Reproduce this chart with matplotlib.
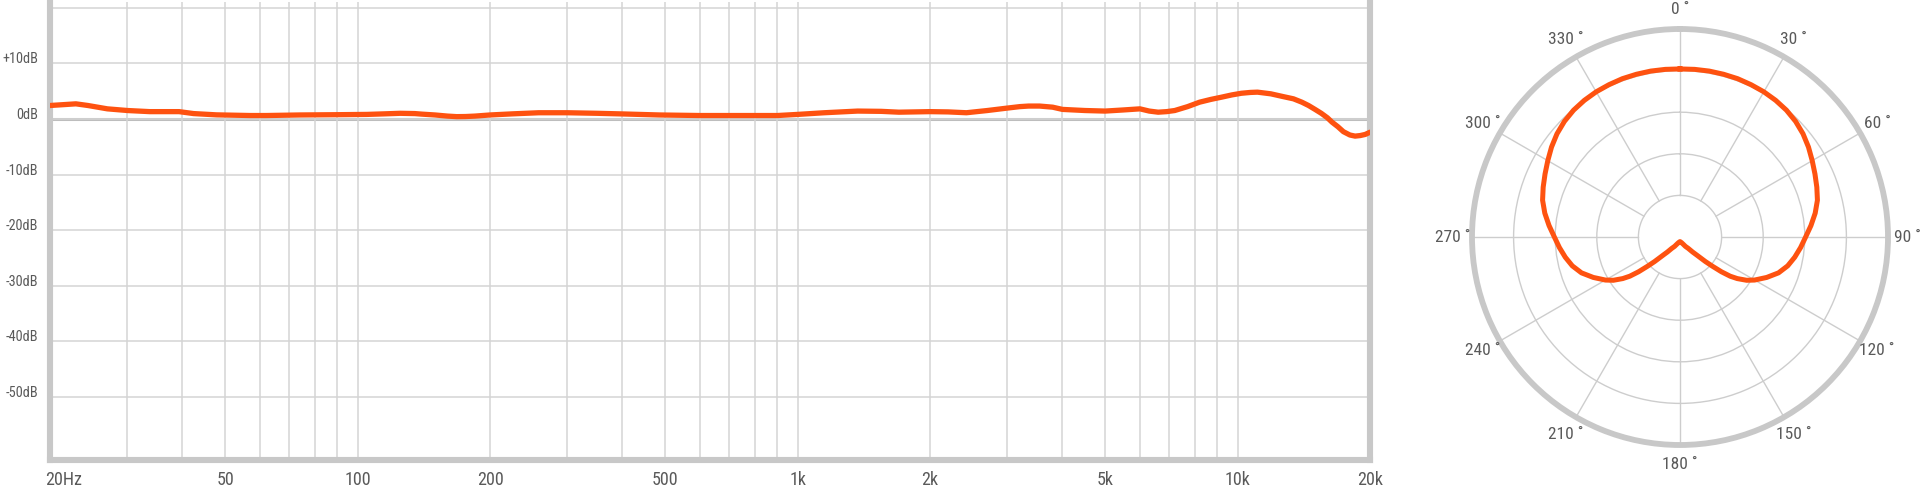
import numpy as np
import matplotlib
matplotlib.use("Agg")
import matplotlib.pyplot as plt
from matplotlib import transforms

# frequency response
freq_hz = [20, 22.9, 24.4, 27, 30, 33.7, 39.3, 42.4, 47.8, 57, 62, 74, 90, 105,
           115, 125, 135, 140, 150, 160, 168, 176, 185, 200, 225, 258, 300, 350,
           394, 485, 600, 700, 900, 1000, 1150, 1370, 1550, 1700, 2000, 2200,
           2420, 2700, 2970, 3200, 3350, 3550, 3800, 4000, 4500, 5000, 5500,
           6000, 6300, 6600, 6900, 7200, 7700, 8200, 8700, 9200, 9700, 10200,
           10700, 11100, 11900, 12700, 13400, 14000, 14500, 15000, 15500,
           16000, 16400, 16900, 17400, 18000, 18500, 19000, 19500, 20000]
level_db = [2.4, 2.7, 2.4, 1.8, 1.5, 1.3, 1.3, 0.95, 0.72, 0.6, 0.6, 0.7, 0.75, 0.8,
            0.9, 1.0, 0.95, 0.85, 0.7, 0.5, 0.4, 0.42, 0.5, 0.7, 0.9, 1.1, 1.1, 1.0,
            0.9, 0.7, 0.6, 0.6, 0.6, 0.8, 1.1, 1.4, 1.35, 1.2, 1.3, 1.25,
            1.1, 1.5, 1.9, 2.2, 2.3, 2.3, 2.1, 1.7, 1.5, 1.4, 1.6,
            1.8, 1.4, 1.2, 1.3, 1.5, 2.2, 3.0, 3.5, 3.9, 4.3, 4.6,
            4.75, 4.8, 4.5, 4.0, 3.6, 3.0, 2.4, 1.7, 1.0,
            0.2, -0.6, -1.4, -2.3, -2.9, -3.1, -3.0, -2.8, -2.4]

xtick_vals = [20, 50, 100, 200, 500, 1000, 2000, 5000, 10000, 20000]
xtick_labels = ["20Hz", "50", "100", "200", "500", "1k", "2k", "5k", "10k", "20k"]
ytick_vals = [10, 0, -10, -20, -30, -40, -50]
ytick_labels = ["+10dB", "0dB", "-10dB", "-20dB", "-30dB", "-40dB", "-50dB"]

# polar pattern (right half, mirrored for the left), radius in ring units
polar_deg = [0, 5, 10, 15, 20, 25, 30, 35, 40, 45, 50, 55, 60, 65, 70, 75, 80, 85,
             90, 95, 100, 105, 110, 115, 120, 123, 126, 128, 130, 132, 134, 137,
             140, 144, 150, 156, 165, 180]
polar_r = [4.04, 4.045, 4.05, 4.05, 4.05, 4.04, 4.03, 4.01, 3.98, 3.93, 3.86, 3.77,
           3.67, 3.58, 3.50, 3.42, 3.30, 3.16, 3.02, 2.91, 2.80, 2.68, 2.52, 2.30,
           2.07, 1.91, 1.70, 1.53, 1.30, 1.05, 0.85, 0.60, 0.47, 0.34, 0.26, 0.19,
           0.14, 0.11]
angle_labels = list(range(0, 360, 30))

ORANGE = "#fe5210"
FRAME = "#c8c8c8"
GRID = "#d4d4d4"
TEXT = "#5a5a5a"

FONT = ["Roboto Condensed", "Liberation Sans Narrow", "Noto Sans", "DejaVu Sans"]
plt.rcParams["font.family"] = FONT
plt.rcParams["font.stretch"] = "condensed"

W, H = 1920, 493
fig = plt.figure(figsize=(W / 100, H / 100), dpi=100)

# ---- frequency response ----
ax = fig.add_axes([50 / W, 33 / H, 1320 / W, 458 / H])
ax.set_xscale("log")
ax.set_xlim(20, 20000)
ax.set_ylim(-61.3, 21)
grid_freqs = [m * 10 ** e for e in (1, 2, 3, 4) for m in range(1, 10)
              if 20 < m * 10 ** e < 20000]
ax.set_xticks(grid_freqs)
ax.set_xticks([], minor=True)
ax.set_yticks(range(-50, 30, 10))
ax.tick_params(which="both", length=0, labelbottom=False, labelleft=False)
ax.grid(True, color=GRID, lw=1.1)
ax.axhline(0, color="#bdbdbd", lw=2.2, zorder=1.5)

ax.spines["top"].set_visible(False)
for s in ("left", "right", "bottom"):
    ax.spines[s].set_color(FRAME)
    ax.spines[s].set_linewidth(4.4)
    ax.spines[s].set_capstyle("projecting")

ax.plot(freq_hz, level_db, color=ORANGE, lw=3.8, solid_joinstyle="round",
        solid_capstyle="round", zorder=3)

tx = transforms.blended_transform_factory(ax.transData, ax.transAxes)
for v, lab in zip(xtick_vals, xtick_labels):
    if v == 20:
        t = transforms.offset_copy(tx, fig=fig, x=-5, y=0, units="dots")
        ax.text(v, -20 / 458, lab, transform=t, ha="left", va="center",
                fontsize=13, color=TEXT)
    else:
        ax.text(v, -20 / 458, lab, transform=tx, ha="center", va="center",
                fontsize=13, color=TEXT)

ty = transforms.blended_transform_factory(ax.transAxes, ax.transData)
ty = transforms.offset_copy(ty, fig=fig, x=-12, y=0, units="dots")
ylabs = []
for v, lab in zip(ytick_vals, ytick_labels):
    ylabs.append(ax.text(0, v, lab, transform=ty, ha="right", va="baseline",
                         fontsize=13, color=TEXT))

# shrink the dB labels if the available font is too wide for the margin
renderer = fig.canvas.get_renderer()
widest = max(t.get_window_extent(renderer).width for t in ylabs)
if widest > 36:
    for t in ylabs:
        t.set_fontsize(13 * 36 / widest)

# ---- polar pattern ----
pax = fig.add_axes([1472 / W, 48 / H, 416 / W, 416 / H], projection="polar")
pax.set_theta_zero_location("N")
pax.set_theta_direction(-1)
pax.set_ylim(0, 5)
pax.set_xticks([])
pax.set_yticks([1, 2, 3, 4])
pax.set_yticklabels([])
pax.grid(True, axis="y", color="#cdcdcd", lw=1.0)
pax.spines["polar"].set_color(FRAME)
pax.spines["polar"].set_linewidth(4.2)

for a in angle_labels:
    th = np.deg2rad(a)
    pax.plot([th, th], [1, 5], color="#cdcdcd", lw=1.0, zorder=1)
    pax.text(th, 5.47, f"{a} ˚", ha="center", va="center", fontsize=12.5,
             color=TEXT)

deg_full = polar_deg + [360 - d for d in polar_deg[::-1][1:]]
r_full = polar_r + polar_r[::-1][1:]
pax.plot(np.deg2rad(deg_full), r_full, color=ORANGE, lw=3.6,
         solid_joinstyle="round", zorder=3)

fig.savefig("out.png", dpi=100)
